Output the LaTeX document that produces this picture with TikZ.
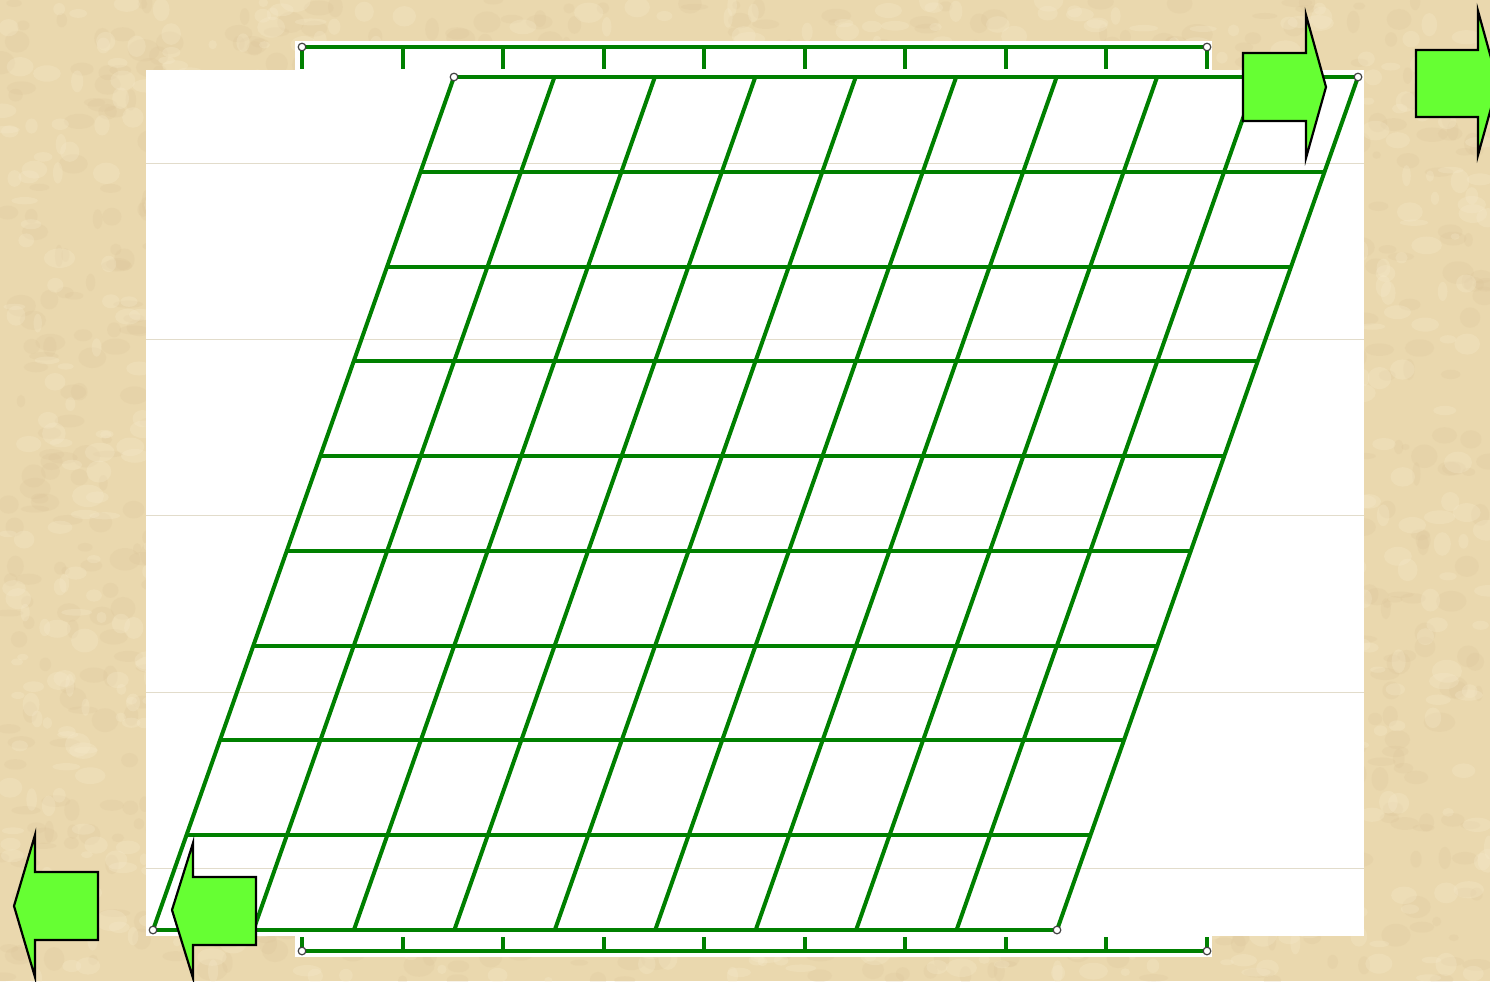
\documentclass[tikz,border=0pt]{standalone}
\definecolor{bg}{HTML}{EAD8AE}
\definecolor{bgdark}{HTML}{D9C195}
\definecolor{bglight}{HTML}{F7ECCE}
\definecolor{gridgreen}{HTML}{008000}
\definecolor{arrowgreen}{HTML}{66FF33}
\definecolor{faint}{HTML}{E2DCCB}
\tikzset{
  gridline/.style={draw=gridgreen, line width=2pt},
  rulerline/.style={draw=gridgreen, line width=2pt},
  handle/.style={draw=black!75, fill=white, line width=0.6pt},
  blockarrow/.style={draw=black, fill=arrowgreen, line width=1.1pt, line join=miter},
  guide/.style={draw=faint, line width=0.5pt},
}
\begin{document}
\begin{tikzpicture}[x=0.5pt,y=-0.5pt]
\useasboundingbox (0,0) rectangle (1490,981);
% textured beige background
\fill[bg] (0,0) rectangle (1490,981);
\begin{scope}
\clip (0,0) rectangle (1490,981);
\pgfmathsetseed{11}
\foreach \i in {1,...,1400}{
  \pgfmathsetmacro\px{rnd*1490}
  \pgfmathsetmacro\py{rnd*981}
  \pgfmathsetmacro\rx{4+rnd*12}
  \pgfmathsetmacro\ry{3+rnd*9}
  \fill[bgdark, opacity=0.18] (\px,\py) ellipse ({\rx} and {\ry});
}
\foreach \i in {1,...,1400}{
  \pgfmathsetmacro\px{rnd*1490}
  \pgfmathsetmacro\py{rnd*981}
  \pgfmathsetmacro\rx{4+rnd*12}
  \pgfmathsetmacro\ry{3+rnd*9}
  \fill[bglight, opacity=0.25] (\px,\py) ellipse ({\rx} and {\ry});
}
\end{scope}
% white sheets
\fill[white] (146,70) rectangle (1364,936);
\fill[white] (295,41) rectangle (1212,70);
\fill[white] (295,936) rectangle (1212,957);
% faint guide lines
\foreach \gy in {163,339,515,692,868}{
  \draw[guide] (146,\gy) -- (1364,\gy);
}
% rulers
\coordinate (rt0) at (302,47);
\coordinate (rt9) at (1207,47);
\coordinate (rb0) at (302,951);
\coordinate (rb9) at (1207,951);
\draw[rulerline] (rt0) -- (rt9);
\draw[rulerline] (rb0) -- (rb9);
\foreach \j in {0,...,9}{
  \pgfmathsetmacro\tx{302+\j*100.555}
  \draw[rulerline] (\tx,47) -- (\tx,69);
  \draw[rulerline] (\tx,951) -- (\tx,937);
}
% parallelogram grid
\coordinate (p00) at (454,77);
\coordinate (p10) at (1358,77);
\coordinate (p01) at (153,930);
\coordinate (p11) at (1057,930);
\foreach \i in {0,...,9}{
  \pgfmathsetmacro\hy{77+\i*94.778}
  \pgfmathsetmacro\hxa{454-\i*33.444}
  \pgfmathsetmacro\hxb{1358-\i*33.444}
  \draw[gridline] (\hxa,\hy) -- (\hxb,\hy);
}
\foreach \k in {0,...,9}{
  \pgfmathsetmacro\sxa{454+\k*100.444}
  \pgfmathsetmacro\sxb{153+\k*100.444}
  \draw[gridline] (\sxa,77) -- (\sxb,930);
}
% selection handles
\foreach \c in {rt0,rt9,rb0,rb9,p00,p10,p01,p11}{
  \filldraw[handle] (\c) circle (3.8);
}
% block arrows
\draw[blockarrow] (1243,53) -- (1306,53) -- (1306,15) -- (1326,87) -- (1306,158) -- (1306,121) -- (1243,121) -- cycle;
\draw[blockarrow] (1416,50) -- (1478,50) -- (1478,11) -- (1498,83) -- (1478,155) -- (1478,117) -- (1416,117) -- cycle;
\draw[blockarrow] (98,872) -- (35,872) -- (35,835) -- (14,906) -- (35,977) -- (35,940) -- (98,940) -- cycle;
\draw[blockarrow] (256,877) -- (193,877) -- (193,843) -- (172,910) -- (193,978) -- (193,945) -- (256,945) -- cycle;
\end{tikzpicture}
\end{document}
